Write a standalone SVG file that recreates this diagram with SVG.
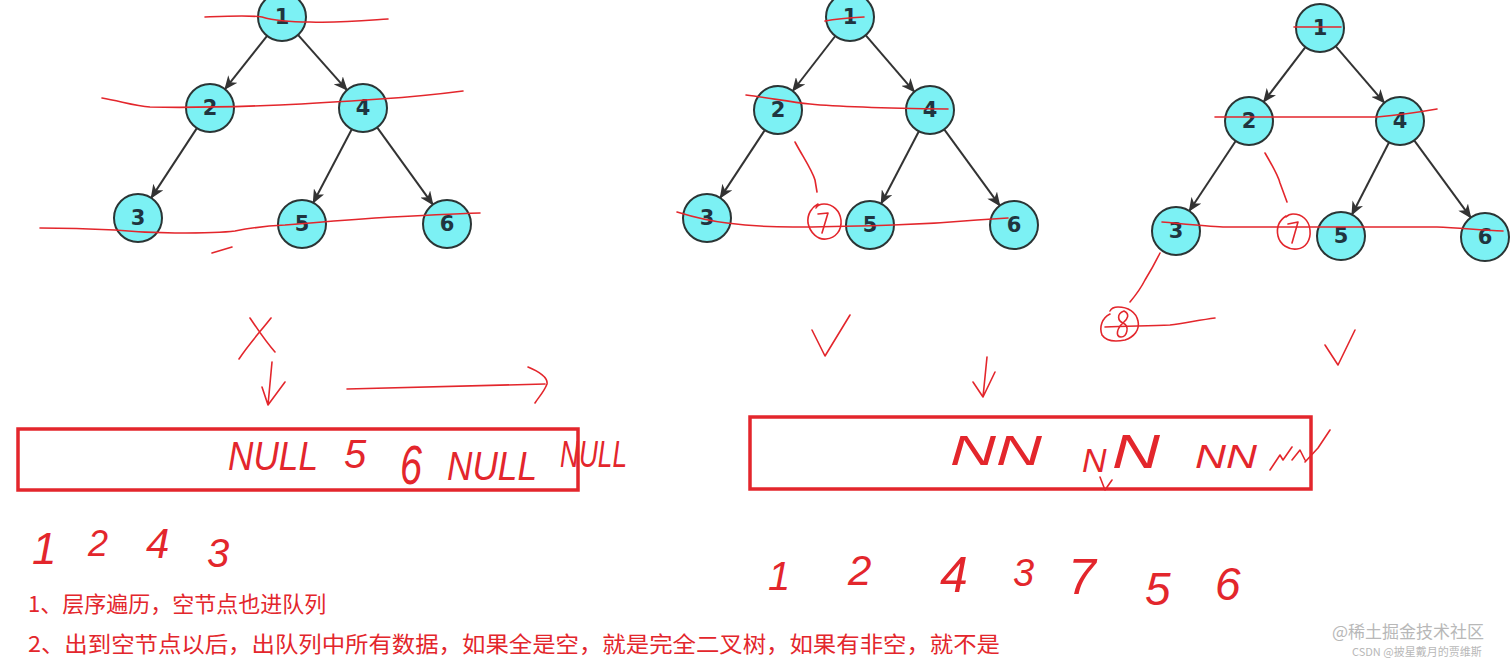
<svg xmlns="http://www.w3.org/2000/svg" width="1512" height="662" viewBox="0 0 1512 662">
<defs>
<marker id="ah" viewBox="0 0 14 12" refX="13" refY="6" markerWidth="14" markerHeight="12" markerUnits="userSpaceOnUse" orient="auto">
<path d="M0,0 L14,6 L0,12 L4,6 Z" fill="#333"/>
</marker>
</defs>
<style>
.n circle{fill:#7cf1f4;stroke:#2b3535;stroke-width:2}
.n text{font-family:"DejaVu Sans",sans-serif;font-weight:bold;font-size:21px;fill:#1f3540;text-anchor:middle;dominant-baseline:central}
.e line{stroke:#333;stroke-width:2;marker-end:url(#ah)}
.r{fill:none;stroke:#e3262c;stroke-width:1.6;stroke-linecap:round;stroke-linejoin:round}
.box{fill:none;stroke:#e3262c;stroke-width:3.5}
.hw{font-family:"Liberation Sans",sans-serif;fill:#e3262c;font-style:italic}
.cn{font-family:"Noto Sans CJK SC",sans-serif;font-size:22px;fill:#e3262c}
.wm{font-family:"Noto Sans CJK SC",sans-serif;fill:#b8b8b8}
</style>
<rect width="1512" height="662" fill="#fff"/>

<g id="connectors" class="e">
<line x1="267.1" y1="35.8" x2="224.9" y2="89.2"/>
<line x1="298.0" y1="34.9" x2="347.0" y2="90.1"/>
<line x1="196.9" y1="128.1" x2="151.2" y2="197.9"/>
<line x1="351.8" y1="129.2" x2="313.2" y2="202.8"/>
<line x1="377.1" y1="127.4" x2="432.9" y2="204.6"/>
<line x1="835.3" y1="36.0" x2="792.7" y2="91.0"/>
<line x1="865.6" y1="35.2" x2="914.4" y2="91.8"/>
<line x1="764.8" y1="130.1" x2="720.2" y2="197.9"/>
<line x1="918.9" y1="131.3" x2="881.1" y2="203.7"/>
<line x1="944.2" y1="129.4" x2="999.8" y2="205.6"/>
<line x1="1305.4" y1="47.1" x2="1263.6" y2="101.9"/>
<line x1="1335.6" y1="46.2" x2="1384.4" y2="102.8"/>
<line x1="1235.7" y1="141.0" x2="1189.3" y2="211.0"/>
<line x1="1389.1" y1="142.3" x2="1351.9" y2="214.7"/>
<line x1="1414.2" y1="140.4" x2="1470.8" y2="217.6"/>
</g>

<g id="t1n1" class="n"><circle cx="282" cy="17" r="24"/><text x="282" y="17">1</text></g>
<g id="t1n2" class="n"><circle cx="210" cy="108" r="24"/><text x="210" y="108">2</text></g>
<g id="t1n4" class="n"><circle cx="363" cy="108" r="24"/><text x="363" y="108">4</text></g>
<g id="t1n3" class="n"><circle cx="138" cy="218" r="24"/><text x="138" y="218">3</text></g>
<g id="t1n5" class="n"><circle cx="302" cy="224" r="24"/><text x="302" y="224">5</text></g>
<g id="t1n6" class="n"><circle cx="447" cy="224" r="24"/><text x="447" y="224">6</text></g>

<g id="t2n1" class="n"><circle cx="850" cy="17" r="24"/><text x="850" y="17">1</text></g>
<g id="t2n2" class="n"><circle cx="778" cy="110" r="24"/><text x="778" y="110">2</text></g>
<g id="t2n4" class="n"><circle cx="930" cy="110" r="24"/><text x="930" y="110">4</text></g>
<g id="t2n3" class="n"><circle cx="707" cy="218" r="24"/><text x="707" y="218">3</text></g>
<g id="t2n5" class="n"><circle cx="870" cy="225" r="24"/><text x="870" y="225">5</text></g>
<g id="t2n6" class="n"><circle cx="1014" cy="225" r="24"/><text x="1014" y="225">6</text></g>

<g id="t3n1" class="n"><circle cx="1320" cy="28" r="24"/><text x="1320" y="28">1</text></g>
<g id="t3n2" class="n"><circle cx="1249" cy="121" r="24"/><text x="1249" y="121">2</text></g>
<g id="t3n4" class="n"><circle cx="1400" cy="121" r="24"/><text x="1400" y="121">4</text></g>
<g id="t3n3" class="n"><circle cx="1176" cy="231" r="24"/><text x="1176" y="231">3</text></g>
<g id="t3n5" class="n"><circle cx="1341" cy="236" r="24"/><text x="1341" y="236">5</text></g>
<g id="t3n6" class="n"><circle cx="1485" cy="237" r="24"/><text x="1485" y="237">6</text></g>

<g id="annotations">
<path class="r" d="M205,17 C230,16 250,15 262,17 C272,20 285,22 310,22 C340,23 360,21 388,19"/>
<path class="r" d="M102,98 C120,101 135,106 150,107 C190,108 230,107 280,105 C320,103 350,101 380,99 C410,97 440,94 463,91"/>
<path class="r" d="M40,228 C70,228 95,229 115,230 C135,232 150,233 175,233 C200,233 220,233 235,231 C250,228 265,226 285,225 C320,222 345,220 375,218 C410,216 445,214 480,213"/>
<path class="r" d="M212,253 L232,247"/>
<path class="r" d="M825,21 C835,19 845,18 864,17"/>
<path class="r" d="M746,95 C770,98 790,102 810,104 C840,107 870,108 948,109"/>
<path class="r" d="M795,142 C803,157 812,170 815,180 L817,192"/>
<path class="r" d="M818,204 C812,207 807,214 808,223 C810,233 818,240 826,239 C836,238 842,230 841,220 C840,211 833,204 824,204 C820,204 817,206 816,208"/>
<path class="r" d="M818,214 L828,213 L822,233"/>
<path class="r" d="M677,212 C690,216 710,221 727,223 C750,226 770,227 793,227 C830,227 860,226 893,225 C930,224 955,222 977,220 L1008,218"/>
<path class="r" d="M1294,27 L1341,27"/>
<path class="r" d="M1215,117 C1260,117 1320,117 1377,117 C1400,115 1420,112 1437,109"/>
<path class="r" d="M1265,153 C1272,165 1278,175 1280,183 L1287,202"/>
<path class="r" d="M1286,216 C1280,220 1276,227 1278,236 C1280,245 1289,250 1297,249 C1306,248 1311,240 1310,230 C1309,220 1302,214 1293,214 C1290,214 1288,215 1286,217"/>
<path class="r" d="M1288,224 L1298,222 L1292,243"/>
<path class="r" d="M1162,222 C1185,224 1205,226 1223,227 C1260,227 1290,227 1323,227 C1370,227 1400,227 1437,227 C1460,228 1480,230 1503,231"/>
<path class="r" d="M1160,253 C1155,263 1150,272 1145,280 C1140,290 1135,296 1130,302"/>
<path class="r" d="M1110,314 C1102,318 1099,327 1102,335 C1106,341 1115,342 1125,340 C1134,337 1140,330 1138,321 C1136,312 1128,307 1118,307 C1113,307 1111,309 1110,311"/>
<path class="r" d="M1124,311 C1116,314 1118,321 1123,323 C1130,326 1127,337 1121,337 C1115,337 1117,328 1123,323 C1128,319 1130,314 1124,311"/>
<path class="r" d="M1105,327 C1130,326 1150,326 1170,325 C1185,323 1200,320 1215,318"/>
<path class="r" d="M1325,345 L1338,365 L1355,330"/>
<path class="r" d="M812,330 L825,356 L850,315"/>
<path class="r" d="M987,357 L983,397 M973,382 L983,397 L995,372"/>
<path class="r" d="M272,362 L268,405 M262,387 L268,405 L285,382"/>
<path class="r" d="M347,389 C400,388 450,386 545,384 M528,367 C540,372 548,378 547,384 C544,392 538,398 535,403"/>
<path class="r" d="M239,359 C248,345 260,332 271,318 M250,318 C258,330 266,342 275,352"/>
<path class="r" d="M1100,477 L1105,490 L1112,480"/>
<path class="r" d="M1270,470 L1280,455 L1283,460 L1292,447 M1292,460 L1300,450 L1305,460 M1305,462 L1318,448 L1330,430"/>
</g>

<g id="box1"><rect class="box" x="18" y="429" width="560" height="61"/></g>
<g id="box2"><rect class="box" x="750" y="417" width="561" height="72"/></g>

<g id="queue1-text">
<text class="hw" x="228" y="470" font-size="40" textLength="90" lengthAdjust="spacingAndGlyphs">NULL</text>
<text class="hw" x="344" y="468" font-size="40">5</text>
<text class="hw" x="400" y="484" font-size="56" textLength="22" lengthAdjust="spacingAndGlyphs">6</text>
<text class="hw" x="447" y="480" font-size="40" textLength="90" lengthAdjust="spacingAndGlyphs">NULL</text>
<text class="hw" x="560" y="467" font-size="36" textLength="67" lengthAdjust="spacingAndGlyphs">NULL</text>
</g>
<g id="queue2-text">
<text class="hw" x="950" y="465" font-size="42" textLength="92" lengthAdjust="spacingAndGlyphs">NN</text>
<text class="hw" x="1082" y="472" font-size="34">N</text>
<text class="hw" x="1112" y="468" font-size="48" textLength="48" lengthAdjust="spacingAndGlyphs">N</text>
<text class="hw" x="1195" y="468" font-size="34" textLength="62" lengthAdjust="spacingAndGlyphs">NN</text>
</g>

<g id="order1">
<text class="hw" x="32" y="564" font-size="44">1</text>
<text class="hw" x="88" y="556" font-size="36">2</text>
<text class="hw" x="146" y="558" font-size="42">4</text>
<text class="hw" x="207" y="567" font-size="40">3</text>
</g>
<g id="order2">
<text class="hw" x="768" y="590" font-size="40">1</text>
<text class="hw" x="848" y="585" font-size="42">2</text>
<text class="hw" x="940" y="592" font-size="50">4</text>
<text class="hw" x="1013" y="586" font-size="38">3</text>
<text class="hw" x="1068" y="594" font-size="50">7</text>
<text class="hw" x="1145" y="605" font-size="46">5</text>
<text class="hw" x="1215" y="600" font-size="46">6</text>
</g>

<g id="notes">
<text class="cn" x="28" y="612">1、层序遍历，空节点也进队列</text>
<text class="cn" x="28" y="652" textLength="972" lengthAdjust="spacingAndGlyphs">2、出到空节点以后，出队列中所有数据，如果全是空，就是完全二叉树，如果有非空，就不是</text>
</g>
<g id="watermark">
<text class="wm" x="1332" y="638" font-size="17">@稀土掘金技术社区</text>
<text class="wm" x="1352" y="656" font-size="11">CSDN @披星戴月的贾维斯</text>
</g>
</svg>
